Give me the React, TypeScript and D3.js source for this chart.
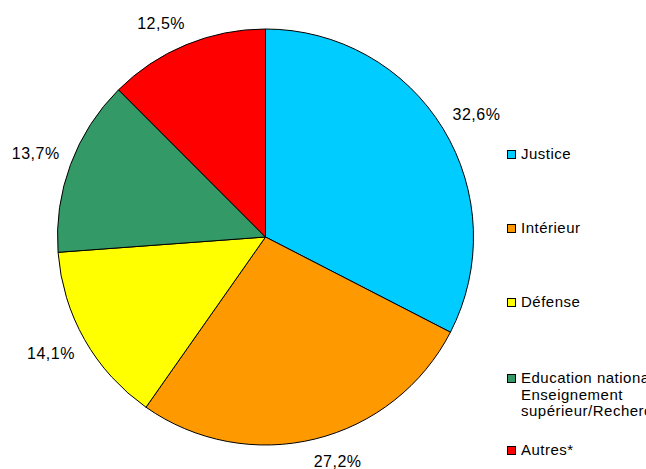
import React from "react";
import * as d3 from "d3";

const categories = ["Justice", "Intérieur", "Défense", "Education nationale/Enseignement supérieur/Recherche", "Autres*"];
const legendLines = [["Justice"], ["Intérieur"], ["Défense"], ["Education nationale/", "Enseignement", "supérieur/Recherche"], ["Autres*"]];
const values = [32.6, 27.2, 14.1, 13.7, 12.5];
const labels = ["32,6%", "27,2%", "14,1%", "13,7%", "12,5%"];
const colors = ["#00CCFF", "#FF9900", "#FFFF00", "#339966", "#FF0000"];
const legendY = [159, 233, 307, 383, 455];

export default function App() {
  const W = 646, H = 469;
  const cx = 265.5, cy = 237, r = 208;
  const pad = 18, hw = 18, hh = 5;
  const pie = d3.pie<number>().sort(null).value((d) => d);
  const arcs = pie(values);
  const arc = d3.arc<d3.PieArcDatum<number>>().innerRadius(0).outerRadius(r);
  const font = "Arial, 'Liberation Sans', sans-serif";
  return (
    <svg width={W} height={H} style={{ position: "absolute", left: 0, top: 0, background: "#fff" }} fontFamily={font}>
      <g transform={`translate(${cx},${cy})`}>
        {arcs.map((a, i) => (
          <path key={i} d={arc(a) || ""} fill={colors[i]} stroke="#000" strokeWidth={1} />
        ))}
        {arcs.map((a, i) => {
          const m = (a.startAngle + a.endAngle) / 2;
          const s = Math.sin(m), c = -Math.cos(m);
          const d = r + pad;
          return (
            <text key={i} x={s * d + Math.sign(s) * hw} y={c * d + Math.sign(c) * hh} textAnchor="middle" dominantBaseline="central" fontSize={16} letterSpacing={0.5} fill="#000">
              {labels[i]}
            </text>
          );
        })}
      </g>
      {categories.map((c, i) => (
        <g key={c}>
          <rect x={507.5} y={legendY[i] - 8.5} width={8} height={8} fill={colors[i]} stroke="#000" strokeWidth={1} />
          <text x={521} y={legendY[i]} fontSize={15} letterSpacing={0.5} fill="#000">
            {legendLines[i].map((l, j) => (
              <tspan key={j} x={521} dy={j === 0 ? 0 : 16.7}>{l}</tspan>
            ))}
          </text>
        </g>
      ))}
    </svg>
  );
}
